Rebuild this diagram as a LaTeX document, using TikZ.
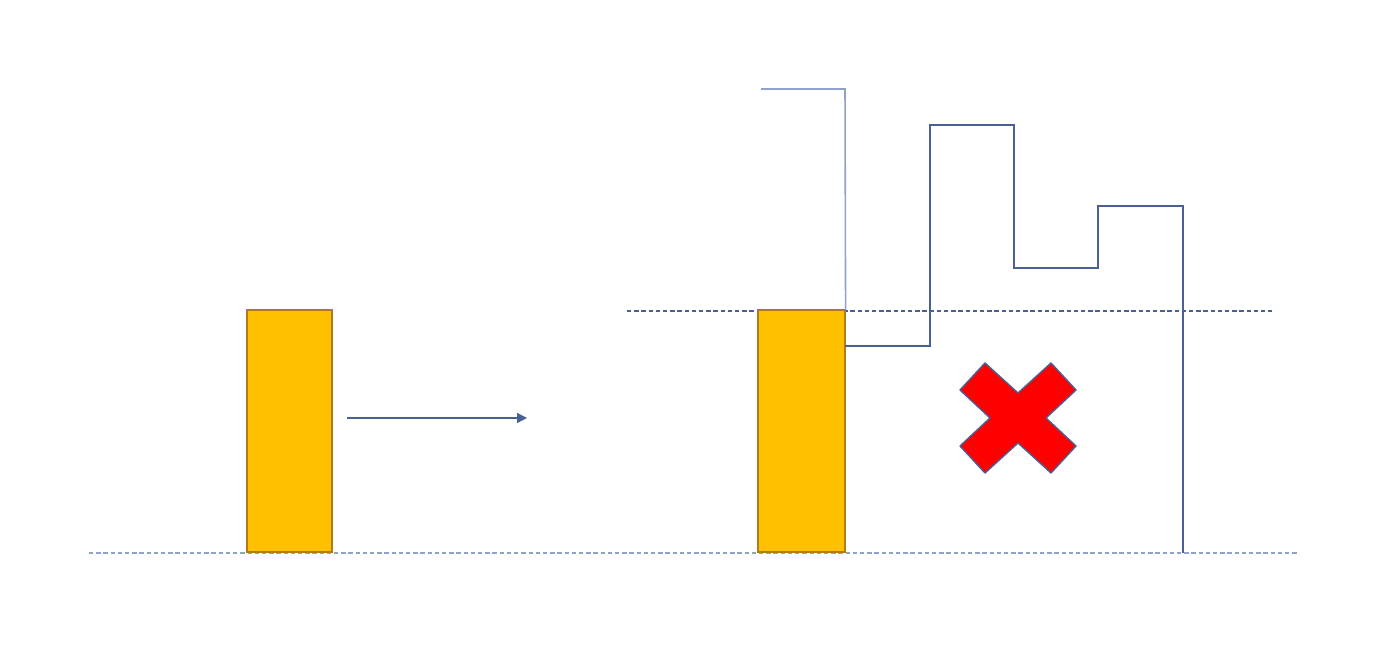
\documentclass[tikz,border=0pt]{standalone}
\usetikzlibrary{arrows.meta}
\definecolor{barfill}{HTML}{FFC000}
\definecolor{barborder}{HTML}{B07C1A}
\definecolor{stepline}{HTML}{4A5F94}
\definecolor{paleline}{HTML}{8FA2CC}
\definecolor{crossfill}{HTML}{FF0000}
\tikzset{
  bar/.style={rectangle, fill=barfill, draw=barborder, line width=0.9pt, inner sep=0pt, anchor=south west},
  level/.style={draw=stepline, line width=0.6pt, dash pattern=on 2.5pt off 1.6pt},
  ground/.style={draw=paleline, line width=0.8pt, dash pattern=on 2.5pt off 1.6pt},
  wall/.style={draw=stepline, line width=0.8pt},
  palewall/.style={draw=paleline, line width=0.9pt},
  flow/.style={-{Triangle[length=2mm, width=2mm]}, draw=stepline, line width=0.8pt},
  cross/.style={fill=crossfill, draw=stepline, line width=0.8pt, line join=round}
}
\begin{document}
\begin{tikzpicture}
\useasboundingbox (0,0) rectangle (28,13.02);

\draw[ground] (1.78,1.96) -- (25.94,1.96);
\draw[level] (12.54,6.8) -- (25.44,6.8);

\node[bar, minimum width=1.7cm, minimum height=4.84cm] (lbar) at (4.92,1.96) {};
\node[bar, minimum width=1.74cm, minimum height=4.84cm] (rbar) at (15.14,1.96) {};

\coordinate (arrowstart) at (6.94,4.66);
\coordinate (arrowend) at (10.54,4.66);
\draw[flow] (arrowstart) -- (arrowend);

% upper limit
\coordinate (topleft) at (15.22,11.24);
\draw[palewall] (topleft) -- (16.9,11.24) -- (rbar.north east);

% stepped outline
\coordinate (stepstart) at (16.9,6.1);
\coordinate (stepend) at (23.66,1.96);
\draw[wall] (stepstart) -- (18.6,6.1) -- (18.6,10.52) -- (20.28,10.52)
  -- (20.28,7.66) -- (21.96,7.66) -- (21.96,8.9) -- (23.66,8.9) -- (stepend);

% not allowed
\draw[cross, shift={(20.36,4.66)}, scale=0.02]
  (0,25) -- (33,55) -- (58,28) -- (28,0) -- (58,-28) -- (33,-55)
  -- (0,-25) -- (-33,-55) -- (-58,-28) -- (-28,0) -- (-58,28) -- (-33,55) -- cycle;

\end{tikzpicture}
\end{document}
